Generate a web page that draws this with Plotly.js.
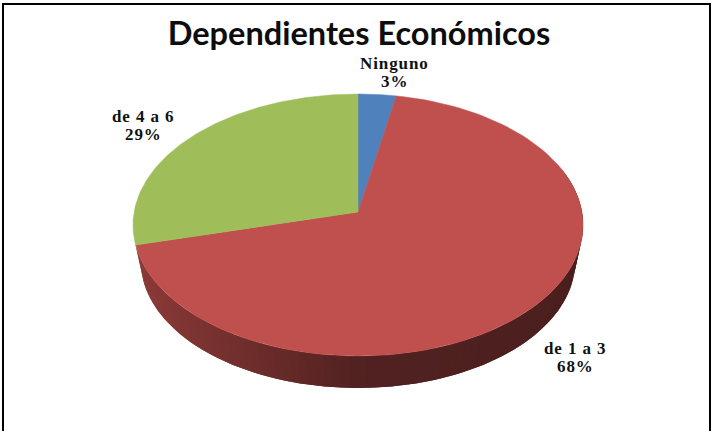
<!DOCTYPE html>
<html>
<head>
<meta charset="utf-8">
<script src="https://cdn.plot.ly/plotly-3.0.1.min.js"></script>
<style>
html, body { margin: 0; padding: 0; background: #fff; overflow: hidden; }
#chart { width: 713px; height: 431px; }
.annotation-text { letter-spacing: 0.9px; }
</style>
</head>
<body>
<div id="chart"></div>
<script>
// Shares of respondents by number of economic dependants
const categories = ["Ninguno", "de 1 a 3", "de 4 a 6"];
const shares = [3, 68, 29];
const sliceColors = ["#4f81bd", "#c0504d", "#9fbe5a"];

// Tilted-disc projection, in plot units
const apex = { x: 358, y: 212 };
const radiusX = 223.9, radiusY = 129.7, tilt = 0.0992;
const rimDrop = 37, rimScale = 0.965;
const wallFrom = 70, wallTo = 255.6;

function project(deg, scale, drop) {
  const a = deg * Math.PI / 180;
  const u = Math.sin(a), v = Math.cos(a);
  const d = 1 + tilt * v;
  return [apex.x + scale * radiusX * u / d, apex.y + drop - scale * radiusY * v / d];
}

function shade(hex, f) {
  const n = parseInt(hex.slice(1), 16);
  return `rgb(${Math.round((n >> 16) * f)},${Math.round(((n >> 8) & 255) * f)},${Math.round((n & 255) * f)})`;
}

const total = shares.reduce((s, v) => s + v, 0);
const traces = [];
const topFaces = [];
let start = 0;

shares.forEach((value, i) => {
  const end = start + value / total * 360;

  // Front wall: strips overlap their neighbour so no seams show
  const step = 2;
  for (let a = Math.max(start, wallFrom); a < Math.min(end, wallTo); a += step) {
    const b = Math.min(a + step, end);
    const over = Math.min(b + 2, Math.min(end, wallTo));
    const p = [];
    for (const d of [a, b, over]) p.push(project(d, 1, 0));
    for (const d of [over, b, a]) p.push(project(d, rimScale, rimDrop));
    const mid = project((a + b) / 2, 1, 0)[0];
    const t = Math.min(1, Math.max(0, (mid - 140) / 218));
    const f = mid > apex.x ? 0.42 - 0.03 * (mid - apex.x) / 225 : 0.72 - 0.30 * t;
    traces.push({
      type: "scatter", mode: "none", fill: "toself", fillcolor: shade(sliceColors[i], f),
      x: p.map(q => q[0]), y: p.map(q => q[1]),
      hoverinfo: "skip", showlegend: false
    });
  }

  // Top face of the slice
  const xs = [apex.x], ys = [apex.y];
  for (let k = 0; k <= 120; k++) {
    const q = project(start + (end - start) * k / 120, 1, 0);
    xs.push(q[0]); ys.push(q[1]);
  }
  xs.push(apex.x); ys.push(apex.y);
  topFaces.push({
    type: "scatter", mode: "lines", fill: "toself", fillcolor: sliceColors[i],
    x: xs, y: ys, line: { color: sliceColors[i], width: 0.5 },
    name: categories[i], hoverinfo: "name", showlegend: false
  });
  start = end;
});

const nameLineY = [63, 348, 116];
const labelX = [394, 575, 143];
const labelFont = { family: "Liberation Serif, serif", size: 17, color: "#111" };

function labelLine(text, x, y) {
  return { text: `<b>${text}</b>`, x, y, xref: "x", yref: "y", showarrow: false,
           xanchor: "center", yanchor: "middle", font: labelFont };
}

const layout = {
  width: 713, height: 431,
  margin: { l: 0, r: 0, t: 0, b: 0 },
  paper_bgcolor: "#fff", plot_bgcolor: "#fff",
  showlegend: false,
  xaxis: { range: [0, 713], visible: false, fixedrange: true },
  yaxis: { range: [431, 0], visible: false, fixedrange: true },
  title: {
    text: "<b>Dependientes Económicos</b>",
    font: { family: "Lato, sans-serif", size: 32.5, color: "#0d0d0d" },
    x: 359 / 713, xanchor: "center", y: 1 - 34 / 431, yanchor: "middle"
  },
  annotations: categories.flatMap((c, i) => [
    labelLine(c, labelX[i], nameLineY[i]),
    labelLine(`${shares[i]}%`, labelX[i], nameLineY[i] + 18)
  ]),
  shapes: [
    { type: "line", xref: "x", yref: "y", x0: 3, x1: 3, y0: 3, y1: 431, line: { color: "#000", width: 2 } },
    { type: "line", xref: "x", yref: "y", x0: 2, x1: 711, y0: 4, y1: 4, line: { color: "#000", width: 2 } },
    { type: "line", xref: "x", yref: "y", x0: 710, x1: 710, y0: 3, y1: 431, line: { color: "#000", width: 2 } }
  ]
};

Plotly.newPlot("chart", traces.concat(topFaces), layout, { displayModeBar: false, staticPlot: true });
</script>
</body>
</html>
